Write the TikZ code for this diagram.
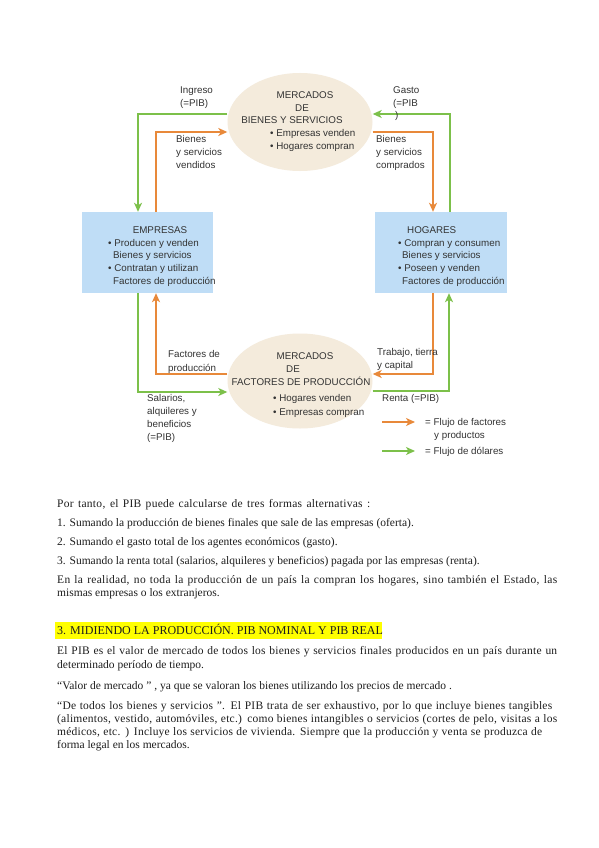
\documentclass[tikz,border=0pt]{standalone}
\usepackage{fontspec}
\setmainfont{Liberation Serif}
\newfontfamily\diagfont{Liberation Sans}
\usetikzlibrary{arrows.meta,shapes.geometric}
\definecolor{oarr}{HTML}{E8893A}
\definecolor{garr}{HTML}{7CC04A}
\definecolor{ellfill}{HTML}{F4EBDC}
\definecolor{boxfill}{HTML}{BFDDF6}
\definecolor{dtext}{HTML}{333333}
\definecolor{btext}{HTML}{1E1E1E}
\definecolor{hilite}{HTML}{FFFF00}
\newcommand{\spreadline}[3]{\makebox[#1][s]{\addfontfeature{LetterSpace=#2}#3}}
\begin{document}
\begin{tikzpicture}[x=1pt,y=-1pt,
  lbl/.style={anchor=base west, inner sep=0pt, font=\diagfont\fontsize{9.8}{12}\selectfont, text=dtext},
  clbl/.style={anchor=base, inner sep=0pt, font=\diagfont\fontsize{9.8}{12}\selectfont, text=dtext},
  body/.style={anchor=base west, inner sep=0pt, font=\fontsize{11.5}{13}\selectfont, text=btext},
  market/.style={ellipse, fill=ellfill, inner sep=0pt, minimum width=145pt},
  agent/.style={rectangle, fill=boxfill, inner sep=0pt, minimum height=81pt},
  oarrow/.style={draw=oarr, line width=1.3pt, -{Stealth[length=9pt,width=8pt,inset=2.5pt]}},
  garrow/.style={draw=garr, line width=1.3pt, -{Stealth[length=9pt,width=8pt,inset=2.5pt]}}]
\path[use as bounding box] (0,0) rectangle (599,848);
\fill[white] (0,0) rectangle (599,848);

% markets and agents
\node[market, minimum height=98pt] (mb) at (300,122) {};
\node[market, minimum height=95pt] (mf) at (300,381) {};
\node[agent, minimum width=131pt] (emp) at (147.5,252.5) {};
\node[agent, minimum width=132pt] (hog) at (441,252.5) {};

% flows
\draw[garrow] (mb.west |- 0,114) -| (emp.north -| 138,0);
\draw[oarrow] (emp.north -| 156,0) |- (mb.west |- 0,132);
\draw[garrow] (hog.north -| 450,0) |- (mb.east |- 0,114);
\draw[oarrow] (mb.east |- 0,132) -| (hog.north -| 433,0);
\draw[garrow] (emp.south -| 138,0) |- (mf.west |- 0,392);
\draw[oarrow] (mf.west |- 0,374) -| (emp.south -| 156,0);
\draw[oarrow] (hog.south -| 433,0) |- (mf.east |- 0,374);
\draw[garrow] (mf.east |- 0,391) -| (hog.south -| 449,0);

% top market text
\node[clbl] (mb1) at (305,98.5) {MERCADOS};
\node[lbl] (mb2) at (295,111.5) {DE};
\node[clbl] (mb3) at (292,124) {BIENES Y SERVICIOS};
\node[lbl] (mb4) at (270,136.5) {• Empresas venden};
\node[lbl] (mb5) at (270,149.5) {• Hogares compran};

% bottom market text
\node[clbl] (mf1) at (305,359.5) {MERCADOS};
\node[lbl] (mf2) at (286,372.5) {DE};
\node[clbl] (mf3) at (301,385.5) {FACTORES DE PRODUCCIÓN};
\node[lbl] (mf4) at (273,401.5) {• Hogares venden};
\node[lbl] (mf5) at (273,415) {• Empresas compran};

% empresas text
\node[clbl] (e1) at (160,233.5) {EMPRESAS};
\node[lbl] (e2) at (108,246.5) {• Producen y venden};
\node[lbl] (e3) at (113,258.5) {Bienes y servicios};
\node[lbl] (e4) at (108,271.5) {• Contratan y utilizan};
\node[lbl] (e5) at (113,284.5) {Factores de producción};

% hogares text
\node[lbl] (h1) at (407,233.5) {HOGARES};
\node[lbl] (h2) at (398,246.5) {• Compran y consumen};
\node[lbl] (h3) at (402,258.5) {Bienes y servicios};
\node[lbl] (h4) at (398,271.5) {• Poseen y venden};
\node[lbl] (h5) at (402,284.5) {Factores de producción};

% flow labels
\node[lbl] (l1) at (180,93.5) {Ingreso};
\node[lbl] (l2) at (180,106.5) {(=PIB)};
\node[lbl] (l3) at (393,93.5) {Gasto};
\node[lbl] (l4) at (393,106.5) {(=PIB};
\node[lbl] (l5) at (395,119) {)};
\node[lbl] (l6) at (176,142.5) {Bienes};
\node[lbl] (l7) at (176,155.5) {y servicios};
\node[lbl] (l8) at (176,168.5) {vendidos};
\node[lbl] (l9) at (376,142.5) {Bienes};
\node[lbl] (l10) at (376,155.5) {y servicios};
\node[lbl] (l11) at (376,168.5) {comprados};
\node[lbl] (l12) at (168,357.5) {Factores de};
\node[lbl] (l13) at (168,371.5) {producción};
\node[lbl] (l14) at (377,355.5) {Trabajo, tierra};
\node[lbl] (l15) at (377,368.5) {y capital};
\node[lbl] (l16) at (147,401.5) {Salarios,};
\node[lbl] (l17) at (147,414.5) {alquileres y};
\node[lbl] (l18) at (147,427.5) {beneficios};
\node[lbl] (l19) at (147,440.5) {(=PIB)};
\node[lbl] (l20) at (382,401.5) {Renta (=PIB)};

% legend
\coordinate (ka) at (382,422);
\coordinate (kb) at (415,422);
\coordinate (kc) at (382,451);
\coordinate (kd) at (415,451);
\draw[oarrow] (ka) -- (kb);
\draw[garrow] (kc) -- (kd);
\node[lbl] (k1) at (425,425.5) {= Flujo de factores};
\node[lbl] (k2) at (434,438.5) {y productos};
\node[lbl] (k3) at (425,454.5) {= Flujo de dólares};

% body text
\node[body] (t1) at (57,507) {\spreadline{313pt}{2.5}{Por tanto, el PIB puede calcularse de tres formas alternativas :}};
\node[body] (t2) at (57,526) {1. Sumando la producción de bienes finales que sale de las empresas (oferta).};
\node[body] (t3) at (57,545) {2. Sumando el gasto total de los agentes económicos (gasto).};
\node[body] (t4) at (57,564) {3. Sumando la renta total (salarios, alquileres y beneficios) pagada por las empresas (renta).};
\node[body] (t5) at (57,583) {\spreadline{500pt}{2.5}{En la realidad, no toda la producción de un país la compran los hogares, sino también el Estado, las}};
\node[body] (t6) at (57,596) {mismas empresas o los extranjeros.};

\fill[hilite] (55,622) rectangle (382,638.5);
\node[body, font=\fontsize{12}{13}\selectfont] (hd) at (57,634.5) {3. MIDIENDO LA PRODUCCIÓN. PIB NOMINAL Y PIB REAL};

\node[body] (p1) at (57,654) {\spreadline{500pt}{2}{El PIB es el valor de mercado de todos los bienes y servicios finales producidos en un país durante un}};
\node[body] (p2) at (57,668) {determinado período de tiempo.};
\node[body] (p3) at (57,689) {“Valor de mercado ” , ya que se valoran los bienes utilizando los precios de mercado .};
\node[body] (p4) at (57,709) {\spreadline{495pt}{2}{“De todos los bienes y servicios ”. El PIB trata de ser exhaustivo, por lo que incluye bienes tangibles}};
\node[body] (p5) at (57,722) {\spreadline{500pt}{2}{(alimentos, vestido, automóviles, etc.) como bienes intangibles o servicios (cortes de pelo, visitas a los}};
\node[body] (p6) at (57,735) {\spreadline{485pt}{2}{médicos, etc. ) Incluye los servicios de vivienda. Siempre que la producción y venta se produzca de}};
\node[body] (p7) at (57,748) {forma legal en los mercados.};
\end{tikzpicture}
\end{document}
